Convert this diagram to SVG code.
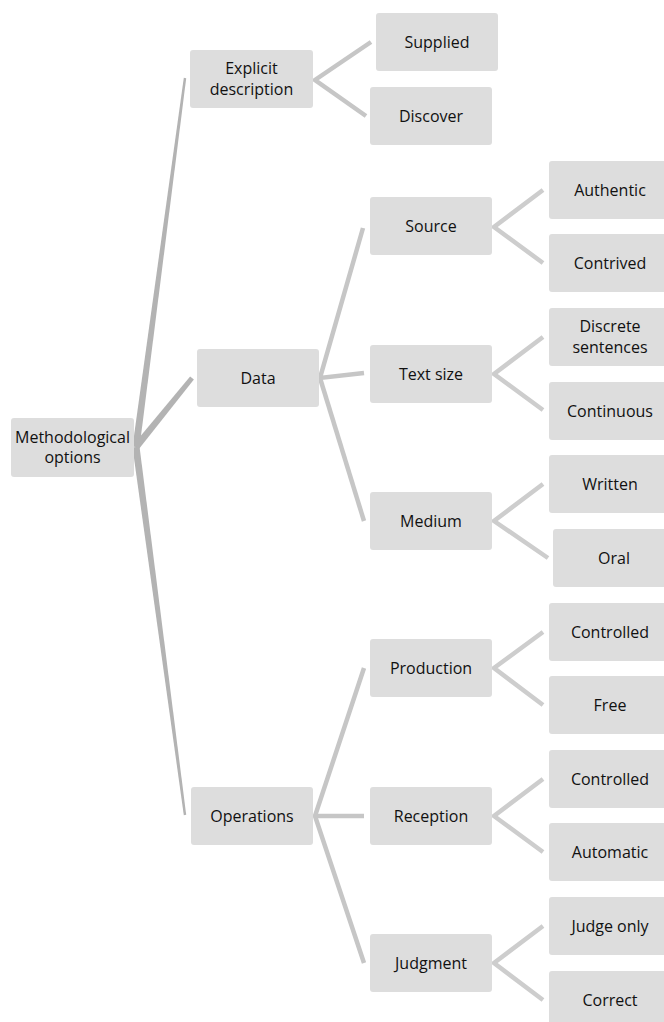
<svg xmlns="http://www.w3.org/2000/svg" width="664" height="1022" viewBox="0 0 664 1022">
<style>
.box{fill:#dddddd;}
.t{font-family:"Open Sans","Liberation Sans",sans-serif;font-size:16px;fill:#111111;text-anchor:middle;}
.c1{fill:#b3b3b3;}
.c2{stroke:#c6c6c6;stroke-width:4.5;fill:none;}
.c3{stroke:#cdcdcd;stroke-width:4.5;fill:none;}
</style>
<rect width="664" height="1022" fill="#ffffff"/>
<g id="connectors">
<polygon class="c1" points="132.5,446.5 139.5,447.5 186.2,78.2 183.8,77.8"/>
<polygon class="c1" points="133.3,444.8 138.7,449.2 193.9,379.5 190.1,376.5"/>
<polygon class="c1" points="132.5,447.5 139.5,446.5 186.2,814.8 183.8,815.2"/>
<polyline class="c2" points="371,42 315,80 366,116"/>
<polyline class="c2" points="363,228 320,378 364,373"/>
<polyline class="c2" points="320,378 364,521"/>
<polyline class="c2" points="364,668 315,816 364,963"/>
<line class="c2" x1="315" y1="816" x2="364" y2="816"/>
<polyline class="c3" points="543,190 494,227 543,263"/>
<polyline class="c3" points="543,337 494,374 543,410"/>
<polyline class="c3" points="543,484 494,521 548,558"/>
<polyline class="c3" points="543,632 494,668 543,705"/>
<polyline class="c3" points="543,779 494,816 543,852"/>
<polyline class="c3" points="543,926 494,963 543,1000"/>
</g>
<g id="n-root"><rect class="box" x="11" y="418" width="123" height="59" rx="3"/><text class="t" x="72.5" y="443">Methodological</text><text class="t" x="72.5" y="463">options</text></g>
<g id="n-explicit"><rect class="box" x="190" y="50" width="123" height="58" rx="3"/><text class="t" x="251.5" y="74">Explicit</text><text class="t" x="251.5" y="95">description</text></g>
<g id="n-data"><rect class="box" x="197" y="349" width="122" height="58" rx="3"/><text class="t" x="258" y="383.5">Data</text></g>
<g id="n-operations"><rect class="box" x="191" y="787" width="122" height="58" rx="3"/><text class="t" x="252" y="821.5">Operations</text></g>
<g id="n-supplied"><rect class="box" x="376" y="13" width="122" height="58" rx="3"/><text class="t" x="437" y="47.5">Supplied</text></g>
<g id="n-discover"><rect class="box" x="370" y="87" width="122" height="58" rx="3"/><text class="t" x="431" y="121.5">Discover</text></g>
<g id="n-source"><rect class="box" x="370" y="197" width="122" height="58" rx="3"/><text class="t" x="431" y="231.5">Source</text></g>
<g id="n-textsize"><rect class="box" x="370" y="345" width="122" height="58" rx="3"/><text class="t" x="431" y="379.5">Text size</text></g>
<g id="n-medium"><rect class="box" x="370" y="492" width="122" height="58" rx="3"/><text class="t" x="431" y="526.5">Medium</text></g>
<g id="n-production"><rect class="box" x="370" y="639" width="122" height="58" rx="3"/><text class="t" x="431" y="673.5">Production</text></g>
<g id="n-reception"><rect class="box" x="370" y="787" width="122" height="58" rx="3"/><text class="t" x="431" y="821.5">Reception</text></g>
<g id="n-judgment"><rect class="box" x="370" y="934" width="122" height="58" rx="3"/><text class="t" x="431" y="968.5">Judgment</text></g>
<g id="n-authentic"><rect class="box" x="549" y="161" width="122" height="58" rx="3"/><text class="t" x="610" y="195.5">Authentic</text></g>
<g id="n-contrived"><rect class="box" x="549" y="234" width="122" height="58" rx="3"/><text class="t" x="610" y="268.5">Contrived</text></g>
<g id="n-discrete"><rect class="box" x="549" y="308" width="122" height="58" rx="3"/><text class="t" x="610" y="332">Discrete</text><text class="t" x="610" y="353">sentences</text></g>
<g id="n-continuous"><rect class="box" x="549" y="382" width="122" height="58" rx="3"/><text class="t" x="610" y="416.5">Continuous</text></g>
<g id="n-written"><rect class="box" x="549" y="455" width="122" height="58" rx="3"/><text class="t" x="610" y="489.5">Written</text></g>
<g id="n-oral"><rect class="box" x="553" y="529" width="122" height="58" rx="3"/><text class="t" x="614" y="563.5">Oral</text></g>
<g id="n-controlled1"><rect class="box" x="549" y="603" width="122" height="58" rx="3"/><text class="t" x="610" y="637.5">Controlled</text></g>
<g id="n-free"><rect class="box" x="549" y="676" width="122" height="58" rx="3"/><text class="t" x="610" y="710.5">Free</text></g>
<g id="n-controlled2"><rect class="box" x="549" y="750" width="122" height="58" rx="3"/><text class="t" x="610" y="784.5">Controlled</text></g>
<g id="n-automatic"><rect class="box" x="549" y="823" width="122" height="58" rx="3"/><text class="t" x="610" y="857.5">Automatic</text></g>
<g id="n-judgeonly"><rect class="box" x="549" y="897" width="122" height="58" rx="3"/><text class="t" x="610" y="931.5">Judge only</text></g>
<g id="n-correct"><rect class="box" x="549" y="971" width="122" height="58" rx="3"/><text class="t" x="610" y="1005.5">Correct</text></g>
</svg>
